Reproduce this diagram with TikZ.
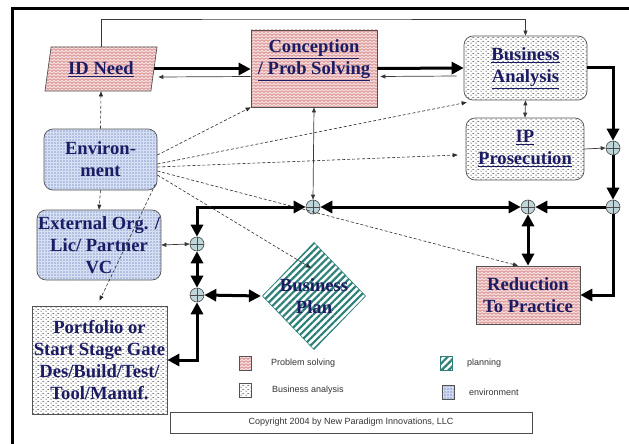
\documentclass[tikz,border=0pt]{standalone}
\usepackage{fontspec}
\setmainfont{Liberation Serif}
\newfontfamily\legendfont{Liberation Sans}
\usetikzlibrary{arrows.meta,shapes.geometric,patterns,patterns.meta,calc}

\definecolor{navy}{RGB}{28,28,100}
\definecolor{pinkbg}{RGB}{246,222,222}
\definecolor{pinkline}{RGB}{205,105,105}
\definecolor{envbg}{RGB}{222,230,246}
\definecolor{envline}{RGB}{125,145,205}
\definecolor{planline}{RGB}{45,128,122}
\definecolor{jfill}{RGB}{190,214,218}

% fill textures for the four activity types
\tikzdeclarepattern{
  name=zigzag, type=uncolored,
  bounding box={(-0.5pt,-0.5pt) and (4.5pt,3.5pt)},
  tile size={(4pt,3pt)},
  code={\draw[line width=0.5pt] (0pt,0.6pt) -- (2pt,2.3pt) -- (4pt,0.6pt);}
}
\tikzdeclarepattern{
  name=dashrows, type=uncolored,
  bounding box={(0pt,0pt) and (5pt,4pt)},
  tile size={(5pt,4pt)},
  code={\draw[line width=0.6pt] (0.3pt,1pt) -- (2.3pt,1pt) (2.8pt,3pt) -- (4.8pt,3pt);}
}
\tikzdeclarepattern{
  name=diamondgrid, type=uncolored,
  bounding box={(0pt,0pt) and (3pt,3pt)},
  tile size={(3pt,3pt)},
  code={\draw[line width=0.4pt] (0pt,0pt) -- (3pt,3pt) (0pt,3pt) -- (3pt,0pt);}
}

\begin{document}
\begin{tikzpicture}[x=1pt,y=-1pt,
  lbl/.style={font=\bfseries\fontsize{18.6}{22}\selectfont, text=navy, align=center, inner sep=1pt},
  outline/.style={draw=gray!65!black, line width=0.7pt},
  probstyle/.style={outline, preaction={fill=pinkbg}, pattern=zigzag, pattern color=pinkline},
  bastyle/.style={outline, preaction={fill=white}, pattern=dashrows, pattern color=gray!45!black},
  envstyle/.style={outline, preaction={fill=envbg}, pattern=diamondgrid, pattern color=envline},
  planstyle/.style={draw=planline, line width=0.6pt, preaction={fill=white}, pattern={Lines[angle=45,distance=5pt,line width=2.2pt]}, pattern color=planline},
  jn/.style={circle, draw=gray!60!black, fill=jfill, minimum size=14pt, inner sep=0pt, line width=0.6pt,
    path picture={\draw[line width=0.5pt, gray!60!black]
      (path picture bounding box.north) -- (path picture bounding box.south)
      (path picture bounding box.west) -- (path picture bounding box.east);}},
  thk/.style={line width=3pt, -{Triangle[length=12pt,width=12pt]}},
  thkboth/.style={line width=3pt, {Triangle[length=12pt,width=12pt]}-{Triangle[length=12pt,width=12pt]}},
  thn/.style={line width=0.7pt, draw=gray!45!black, -{Triangle[length=5pt,width=4pt]}},
  thnboth/.style={line width=0.7pt, draw=gray!45!black, {Triangle[length=5pt,width=4pt]}-{Triangle[length=5pt,width=4pt]}},
  dsh/.style={line width=0.6pt, draw=gray!35!black, dash pattern=on 3pt off 2pt, -{Triangle[length=5pt,width=4pt]}},
  legsq/.style={minimum width=12pt, minimum height=14pt, inner sep=0pt},
  legtxt/.style={font=\legendfont\fontsize{9}{11}\selectfont, text=black!80, anchor=west, inner sep=1pt}
]
\useasboundingbox (0,0) rectangle (629,444);

% frame
\draw[line width=3pt] (12.5,444) -- (12.5,8.5) -- (629,8.5);

% activity blocks
\node[lbl, probstyle, trapezium, trapezium left angle=68, trapezium right angle=112,
      trapezium stretches body, minimum width=112pt, minimum height=44pt, inner sep=0pt]
      (idneed) at (101,69) {\underline{ID Need}};
\node[probstyle, minimum width=126pt, minimum height=77pt] (concept) at (314,68.5) {};
\node[lbl] (concepttxt) at (314,60.5) {\underline{Conception}\\\underline{/ Prob Solving}};
\node[lbl, bastyle, rounded corners=9pt, minimum width=123pt, minimum height=64pt]
      (ba) at (525.5,68) {\underline{Business}\\\underline{Analysis}};
\node[lbl, bastyle, rounded corners=9pt, minimum width=118pt, minimum height=62pt]
      (ip) at (525,149) {\underline{IP}\\\underline{Prosecution}};
\node[lbl, envstyle, rounded corners=9pt, minimum width=113pt, minimum height=61pt]
      (env) at (100.5,159.5) {Environ-\\ment};
\node[lbl, envstyle, rounded corners=9pt, minimum width=122pt, minimum height=70pt]
      (ext) at (99,245) {External Org. /\\Lic/ Partner\\VC};
\node[lbl, bastyle, minimum width=135pt, minimum height=108pt]
      (port) at (99.5,360) {Portfolio or\\Start Stage Gate\\Des/Build/Test/\\Tool/Manuf.};
\node[planstyle, diamond, minimum width=104pt, minimum height=108pt, inner sep=0pt]
      (plan) at (314,296) {};
\node[lbl] (plantxt) at (314,296) {Business\\Plan};
\node[lbl, probstyle, minimum width=104pt, minimum height=58pt]
      (red) at (528,295) {Reduction\\To Practice};

% summing junctions
\node[jn] (j1) at (613,148) {};
\node[jn] (j2) at (613,207) {};
\node[jn] (j3) at (528,207) {};
\node[jn] (j4) at (313,207) {};
\node[jn] (j5) at (197,244) {};
\node[jn] (j6) at (197,295) {};
\coordinate (toprow) at (300,19);

% main flow
\draw[thk] (idneed.east) -- (concept.west |- idneed.east);
\draw[thn] ([yshift=-8pt]concept.west) -- ([xshift=4pt,yshift=-8pt]idneed.east);
\draw[thk] (concept.east) -- (ba.west);
\draw[thn] ([xshift=-7pt,yshift=-8pt]ba.west) -- ([xshift=3pt,yshift=-8pt]concept.east);
\draw[thn] (idneed.north) |- (toprow) -| (ba.north);
\draw[thnboth] (ba.south) -- (ip.north);
\draw[thk] (ba.east) -| (j1.north);
\draw[thn] (ip.east) -- (j1.west);
\draw[thk] (j1.south) -- (j2.north);
\draw[thk] (j2.west) -- (j3.east);
\draw[thk] (j2.south) |- (red.east);
\draw[thkboth] (j4.east) -- (j3.west);
\draw[thkboth] (j3.south) -- (red.north);
\draw[thnboth] (concept.south) -- (j4.north);
\draw[thkboth] (j5.north) |- (j4.west);
\draw[thkboth] (j5.south) -- (j6.north);
\draw[thkboth] (j6.east) -- (plan.west);
\draw[thkboth] (port.east) -| (j6.south);
\draw[thnboth] (ext.east) -- (j5.west);

% environmental influences
\draw[dsh] (env.north) -- (idneed.south);
\draw[dsh] (env.south) -- (ext.north);
\draw[dsh] ([yshift=4.5pt]env.east) -- (concept.south west);
\draw[dsh] ([yshift=-4.5pt]env.east) -- ([xshift=3pt,yshift=-2pt]ba.south west);
\draw[dsh] ([yshift=-7.5pt]env.east) -- ([xshift=-8pt,yshift=-6pt]ip.west);
\draw[dsh] ([yshift=-11.5pt]env.east) -- ([xshift=-10pt]red.north);
\draw[dsh] ([yshift=-15.5pt]env.east) -- ([shift={(-3pt,28pt)}]plan.center);
\draw[dsh] ([shift={(-2pt,6pt)}]env.south east) -- ([yshift=5pt]port.north);

% legend
\node[legsq, probstyle] (lgprob) at (245,363) {};
\node[legtxt] (lgprobtxt) at (270,363) {Problem solving};
\node[legsq, bastyle] (lgba) at (245,390) {};
\node[legtxt] (lgbatxt) at (271,390) {Business analysis};
\node[legsq, planstyle] (lgplan) at (446,363) {};
\node[legtxt] (lgplantxt) at (466,363) {planning};
\node[legsq, envstyle] (lgenv) at (448,392) {};
\node[legtxt] (lgenvtxt) at (468,392) {environment};

\node[draw=gray!60!black, line width=0.6pt, minimum width=362pt, minimum height=21pt,
      font=\legendfont\fontsize{9}{11}\selectfont, text=black!80]
      (copy) at (351,422.5) {Copyright 2004 by New Paradigm Innovations, LLC};
\end{tikzpicture}
\end{document}
